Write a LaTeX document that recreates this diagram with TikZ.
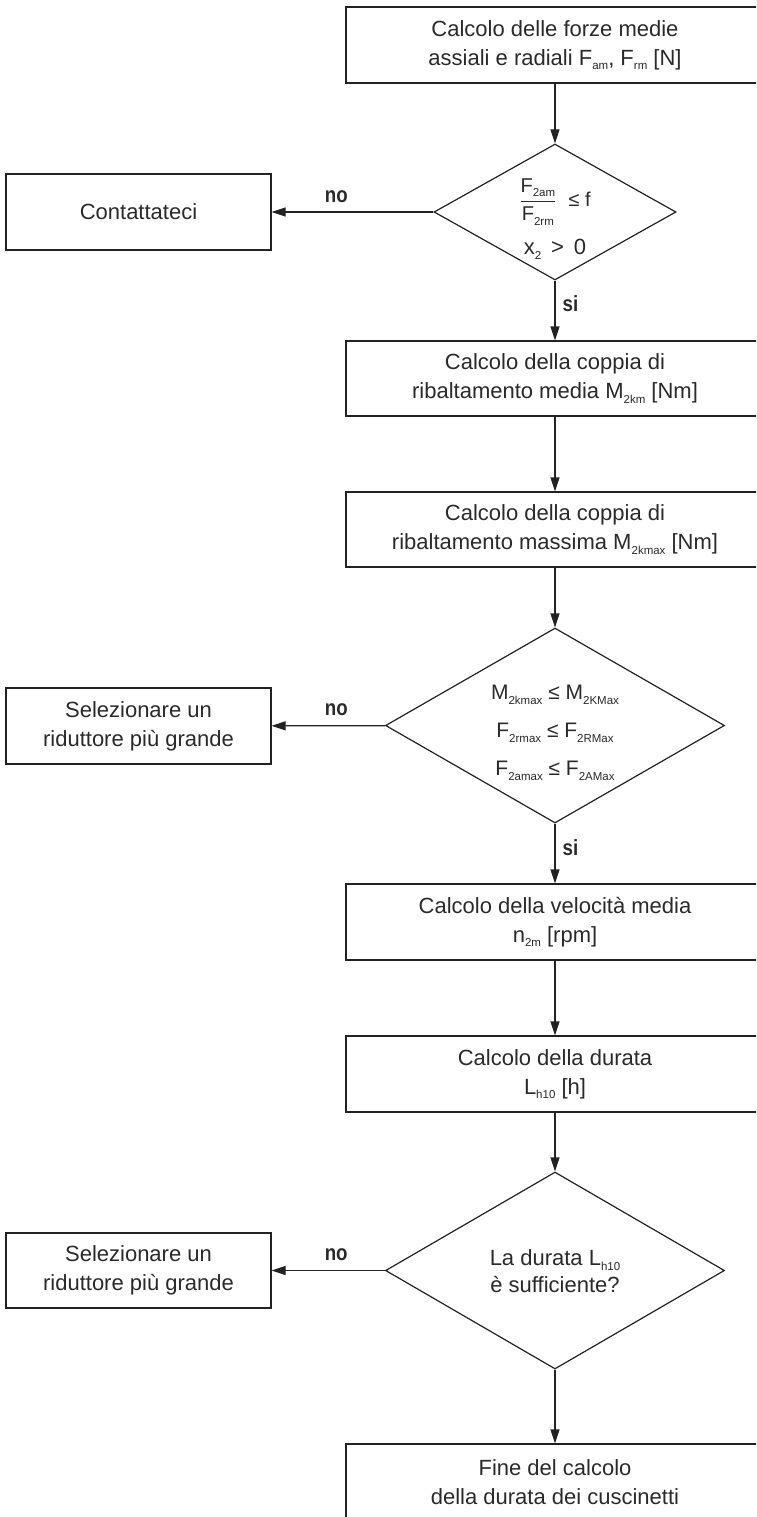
\documentclass[tikz,border=0pt]{standalone}
\usepackage{fontspec}
\setmainfont{Liberation Sans}
\usetikzlibrary{shapes.geometric,arrows.meta}
\definecolor{linec}{HTML}{222222}
\definecolor{txtc}{HTML}{2A2A2A}
\newcommand\sbs[1]{\raisebox{-0.4ex}{\fontsize{11.5}{11.5}\selectfont #1}}
\newcommand\condlab[1]{\scalebox{0.85}[1]{#1}}
\begin{document}
\begin{tikzpicture}[x=1pt,y=-1pt,
  box/.style={draw=linec, line width=1.2pt, minimum width=418pt, minimum height=75pt,
    inner sep=0pt, align=center, text=txtc, font=\fontsize{22}{29}\selectfont},
  sbox/.style={box, minimum width=265pt},
  dia/.style={draw=linec, line width=1.2pt, diamond, inner sep=0pt},
  arr/.style={draw=linec, line width=1.2pt, -{Triangle[length=14pt,width=9pt]}},
  lab/.style={font=\bfseries\fontsize{22}{22}\selectfont, text=txtc, inner sep=0pt},
  dtxt/.style={align=center, text=txtc, inner sep=0pt}
]
\useasboundingbox (0,0) rectangle (756,1517);
\clip (0,0) rectangle (756,1517);
\fill[white] (0,0) rectangle (756,1517);

% main column
\node[box, minimum height=76pt] (b1) at (555,45) {Calcolo delle forze medie\\assiali e radiali F\sbs{am}, F\sbs{rm} [N]};
\node[dia, minimum width=242pt, minimum height=136pt] (d1) at (555,212) {};
\node[sbox, minimum height=76pt] (c) at (138.5,212) {Contattateci};
\node[box] (b2) at (555,378.5) {Calcolo della coppia di\\ribaltamento media M\sbs{2km} [Nm]};
\node[box] (b3) at (555,529.5) {Calcolo della coppia di\\ribaltamento massima M\sbs{2kmax} [Nm]};
\node[dia, minimum width=339pt, minimum height=195pt] (d2) at (555,725.5) {};
\node[sbox, minimum height=76pt] (s1) at (138.5,726) {Selezionare un\\riduttore più grande};
\node[box, minimum height=76pt] (b4) at (555,922) {Calcolo della velocità media\\n\sbs{2m} [rpm]};
\node[box, minimum height=76pt] (b5) at (555,1074) {Calcolo della durata\\L\sbs{h10} [h]};
\node[dia, minimum width=339pt, minimum height=197pt] (d3) at (555,1270.5) {};
\node[sbox] (s2) at (138.5,1270.5) {Selezionare un\\riduttore più grande};
\node[box, minimum height=76pt] (b6) at (555,1482) {Fine del calcolo\\della durata dei cuscinetti};

% diamond texts
\node[dtxt, font=\fontsize{20}{20}\selectfont] (t1a) at ([yshift=10pt]d1.center)
  {$\displaystyle\frac{\mbox{F\sbs{2am}}}{\mbox{F\sbs{2rm}}}$\,\, ≤ f};
\node[dtxt, font=\fontsize{22}{22}\selectfont] (t1b) at ([yshift=-37pt]d1.center) {x\sbs{2} \,>\, 0};
\node[dtxt, font=\fontsize{21}{38}\selectfont] (t2) at ([yshift=-7.5pt]d2.center)
  {M\sbs{2kmax} ≤ M\sbs{2KMax}\\F\sbs{2rmax} ≤ F\sbs{2RMax}\\F\sbs{2amax} ≤ F\sbs{2AMax}};
\node[dtxt, font=\fontsize{22}{27}\selectfont] (t3) at ([yshift=-1pt]d3.center)
  {La durata L\sbs{h10}\\è sufficiente?};

% connectors
\draw[arr] (b1) -- (d1);
\draw[arr] (d1) -- (c) node[lab, pos=0.6, above=9pt] {\condlab{no}};
\draw[arr] (d1) -- (b2) node[lab, pos=0.38, right=7pt] {\condlab{si}};
\draw[arr] (b2) -- (b3);
\draw[arr] (b3) -- (d2);
\draw[arr] (d2) -- (s1) node[lab, pos=0.43, above=9pt] {\condlab{no}};
\draw[arr] (d2) -- (b4) node[lab, pos=0.41, right=7pt] {\condlab{si}};
\draw[arr] (b4) -- (b5);
\draw[arr] (b5) -- (d3);
\draw[arr] (d3) -- (s2) node[lab, pos=0.43, above=9pt] {\condlab{no}};
\draw[arr] (d3) -- (b6);
\end{tikzpicture}
\end{document}
